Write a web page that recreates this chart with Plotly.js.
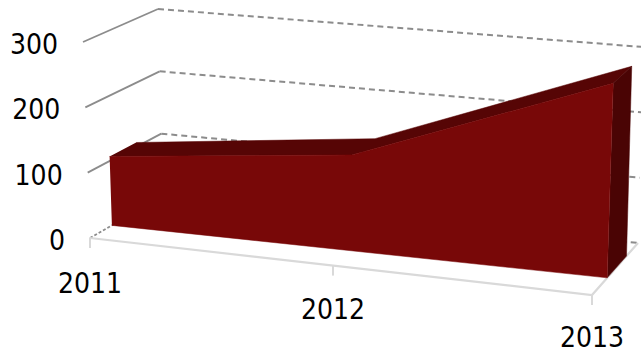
<!DOCTYPE html>
<html>
<head>
<meta charset="utf-8">
<script src="https://cdn.plot.ly/plotly-3.0.1.min.js"></script>
<style>html,body{margin:0;padding:0;background:#fff}#chart{width:641px;height:353px}</style>
</head>
<body>
<div id="chart"></div>
<script>
// Yearly totals shown as a single 3D area band
const categories = ['2011', '2012', '2013'];
const values = [107, 145, 286];
const valueTicks = [0, 100, 200, 300];
const valueMax = 300;

// Screen positions of the eight corners of the plot box
const box = {
  frontLeft:  {bottom: [90, 238],  top: [83, 42]},
  backLeft:   {bottom: [163, 196], top: [158, 9]},
  frontRight: {bottom: [592, 295], top: [599, 87]},
  backRight:  {bottom: [638, 243], top: [643, 47]}
};
const foreshorten = 1.066;          // category spacing shrinks with distance
const bandFront = [0.30, 0.33];     // band depth at the left and right ends
const bandBack = [0.66, 0.75];

const mix = (a, b, t) => a + (b - a) * t;
const mix2 = (p, q, t) => [mix(p[0], q[0], t), mix(p[1], q[1], t)];

// Perspective position of category index i along the horizontal axis
function along(i) {
  const t = i / (categories.length - 1);
  return t / (t + (1 - t) * foreshorten);
}

// Maps (horizontal fraction, value, depth fraction) onto the page
function project(h, value, depth) {
  const v = value / valueMax;
  const level = c => mix2(c.bottom, c.top, v);
  const front = mix2(level(box.frontLeft), level(box.frontRight), h);
  const back = mix2(level(box.backLeft), level(box.backRight), h);
  return mix2(front, back, depth);
}

const bandDepth = (range, h) => mix(range[0], range[1], h);
const onBand = (range, i, value) => {
  const h = along(i);
  return project(h, value, bandDepth(range, h));
};

function path(points, color, width, dash) {
  return {
    x: points.map(p => p[0]), y: points.map(p => p[1]),
    mode: 'lines', hoverinfo: 'skip', showlegend: false,
    line: {color: color, width: width, dash: dash || 'solid', shape: 'linear'}
  };
}
function face(points, color) {
  return {
    x: points.map(p => p[0]), y: points.map(p => p[1]),
    mode: 'lines', fill: 'toself', fillcolor: color, hoverinfo: 'skip', showlegend: false,
    line: {color: color, width: 0.5}
  };
}
function label(point, text, position) {
  return {
    x: [point[0]], y: [point[1]], text: [text], mode: 'text', textposition: position,
    hoverinfo: 'skip', showlegend: false, cliponaxis: false,
    textfont: {family: '"DejaVu Sans Condensed", "DejaVu Sans", sans-serif', size: 28, color: '#000'}
  };
}

const traces = [];
const gridColor = '#8c8c8c';
const floorColor = '#d9d9d9';

// Gridlines on the side and back walls
valueTicks.forEach(tick => {
  traces.push(path([project(0, tick, 0), project(0, tick, 1)], gridColor, 1.8, tick === 0 ? '3px,2px' : 'solid'));
  traces.push(path([project(0, tick, 1), project(1, tick, 1)], gridColor, 2, '6px,4px'));
});

// Floor edges and category tick marks
traces.push(path([project(0, 0, 0), project(1, 0, 0), project(1, 0, 1)], floorColor, 2.2));
categories.forEach((c, i) => {
  const base = project(along(i), 0, 0);
  traces.push(path([base, [base[0], base[1] + 10]], floorColor, 2));
});

// The band: top, right end, then front face
const idx = categories.map((c, i) => i);
const last = categories.length - 1;
const frontTop = idx.map(i => onBand(bandFront, i, values[i]));
const backTop = idx.map(i => onBand(bandBack, i, values[i]));
traces.push(face(frontTop.concat(backTop.slice().reverse()), '#560505'));
traces.push(face([
  onBand(bandFront, last, values[last]), onBand(bandBack, last, values[last]),
  onBand(bandBack, last, 0), onBand(bandFront, last, 0)
], '#4a0404'));
traces.push(face(frontTop.concat([onBand(bandFront, last, 0), onBand(bandFront, 0, 0)]), '#780808'));

// Value labels sit left of the front edge of the side wall
valueTicks.forEach(tick => {
  const p = project(0, tick, 0);
  traces.push(label([p[0] - 25, p[1] + 5], String(tick), 'middle left'));
});
// Category labels hang beneath their tick marks
categories.forEach((c, i) => {
  const h = along(i);
  const p = project(h, 0, 0);
  traces.push(label([p[0], p[1] + 48 - 3 * h], c, 'middle center'));
});

Plotly.newPlot('chart', traces, {
  width: 641, height: 353,
  margin: {l: 0, r: 0, t: 0, b: 0},
  paper_bgcolor: '#fff', plot_bgcolor: '#fff',
  xaxis: {range: [0, 641], visible: false, fixedrange: true},
  yaxis: {range: [353, 0], visible: false, fixedrange: true},
  showlegend: false
}, {displayModeBar: false, staticPlot: true});
</script>
</body>
</html>
